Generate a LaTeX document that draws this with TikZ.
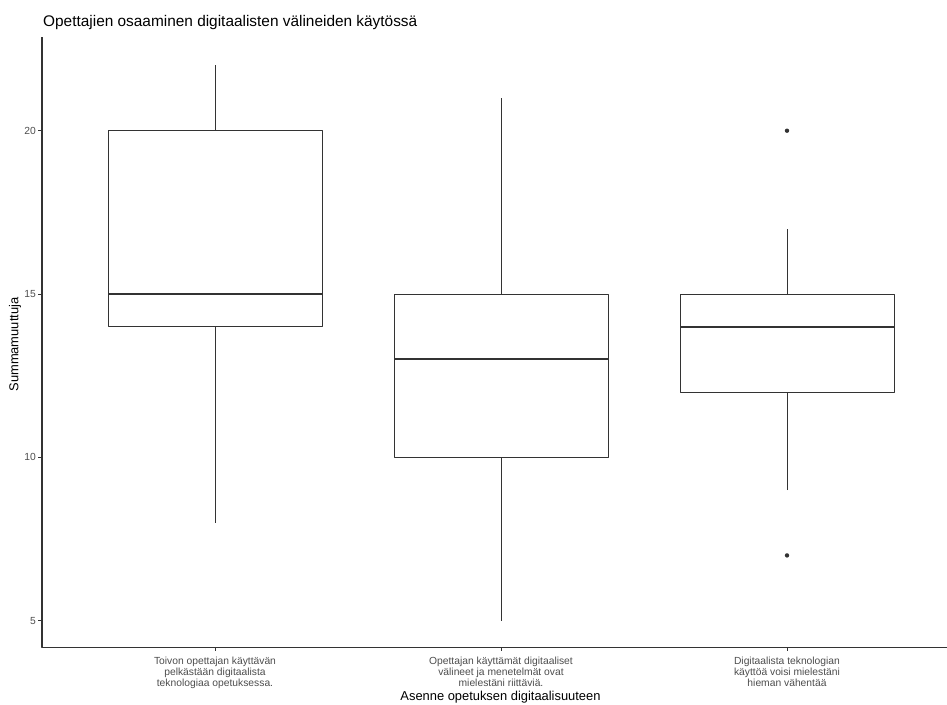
\documentclass[tikz,border=0pt]{standalone}
\usepackage{fontspec}
\setmainfont{Liberation Sans}
\definecolor{axisgray}{HTML}{333333}
\definecolor{labelgray}{HTML}{4D4D4D}
\begin{document}
\begin{tikzpicture}[x=1pt, y=1pt, line join=round,
	boxline/.style={axisgray, line width=1pt},
	ticklabel/.style={text=labelgray, font=\fontsize{10.3}{11}\selectfont, inner sep=1pt}]
	\useasboundingbox (0,0) rectangle (947,-704);
	\node[anchor=base west, inner sep=0pt, font=\fontsize{15.4}{17}\selectfont] (title) at (43,-26) {Opettajien osaaminen digitaalisten välineiden käytössä};
	\begin{scope}[shift={(0,-784.1)}, y=32.67pt]
		\coordinate (T) at (42,22.86);
		\coordinate (O) at (42,4.17);
		\coordinate (E) at (947,4.17);
		\draw[axisgray, line width=1.1pt] (T) -- (O) -- (E);
		\foreach \v in {5,10,15,20} {
			\draw[boxline] (38,\v) -- (42,\v);
			\node[ticklabel, anchor=east] (tick\v) at (37,\v) {\v};}
		\foreach \n/\x/\lo/\qa/\md/\qb/\hi/\txt in {
			a/215/8/14/15/20/22/{Toivon opettajan käyttävän\\pelkästään digitaalista\\teknologiaa opetuksessa.},
			b/501/5/10/13/15/21/{Opettajan käyttämät digitaaliset\\välineet ja menetelmät ovat\\mielestäni riittäviä.},
			c/787/9/12/14/15/17/{Digitaalista teknologian\\käyttöä voisi mielestäni\\hieman vähentää}} {
			\draw[boxline] (\x-107,\qa) rectangle (\x+107,\qb);
			\draw[boxline] (\x,\lo) -- (\x,\qa) (\x,\qb) -- (\x,\hi);
			\draw[axisgray, line width=2pt] (\x-107,\md) -- (\x+107,\md);
			\coordinate (x\n) at (\x,4.17);
			\draw[boxline] (x\n) -- ++(0,-3pt);
			\node[ticklabel, anchor=north, align=center, yshift=-7.5pt] (lab\n) at (x\n) {\txt};}
		\fill[axisgray] (787,20) circle(2.2pt) (787,7) circle(2.2pt);
	\end{scope}
	\node[anchor=base, inner sep=0pt, font=\fontsize{12.9}{15}\selectfont] (xtitle) at (500.5,-700) {Asenne opetuksen digitaalisuuteen};
	\node[rotate=90, inner sep=0pt, font=\fontsize{12.9}{15}\selectfont] (ytitle) at (15,-344.5) {Summamuuttuja};
\end{tikzpicture}
\end{document}
